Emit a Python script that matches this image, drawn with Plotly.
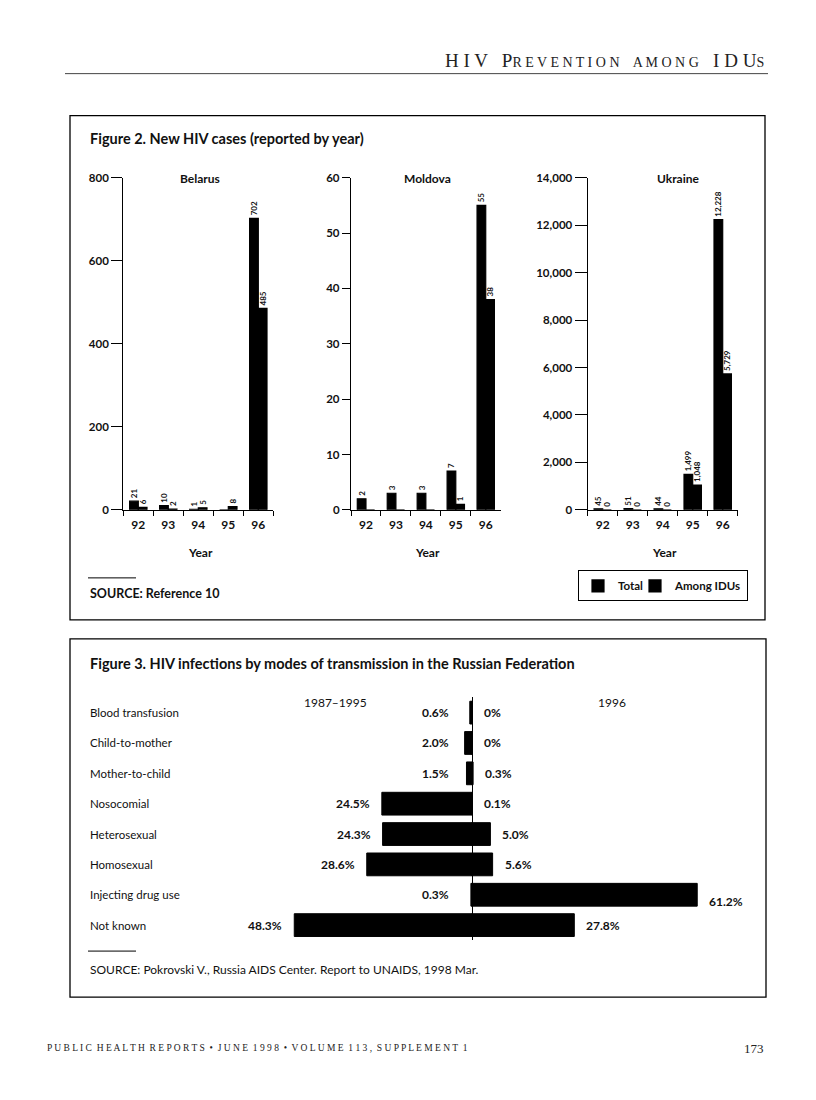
import plotly.graph_objects as go

# The page body has an 8px margin; a 800x1084 figure then fills the 816x1100 window.
# Positions below are in pixels of the reference picture; page_y() maps them
# to page pixels (corrects a small vertical squeeze seen in the screenshots).
PAD = 8
W, H = 816 - 2 * PAD, 1100 - 2 * PAD
FONT = "Lato"
SERIF = "Liberation Serif"
INK = "#111111"

# ---- Figure 2: new HIV cases by year ----
YEARS = ["92", "93", "94", "95", "96"]
BELARUS_TOTAL = [21, 10, 1, 0, 702]
BELARUS_IDU = [6, 2, 5, 8, 485]
MOLDOVA_TOTAL = [2, 3, 3, 7, 55]
MOLDOVA_IDU = [0, 0, 0, 1, 38]
UKRAINE_TOTAL = [45, 51, 44, 1499, 12228]
UKRAINE_IDU = [0, 0, 0, 1048, 5729]

# ---- Figure 3: modes of transmission, Russian Federation ----
MODES = ["Blood transfusion", "Child-to-mother", "Mother-to-child", "Nosocomial",
         "Heterosexual", "Homosexual", "Injecting drug use", "Not known"]
PCT_1987_1995 = [0.6, 2.0, 1.5, 24.5, 24.3, 28.6, 0.3, 48.3]
PCT_1996 = [0, 0, 0.3, 0.1, 5.0, 5.6, 61.2, 27.8]


def page_y(y):
    return (y - 6.5) / 0.9875


def fx(x):
    return (x - PAD) / W


def fy(y):
    return 1 - (page_y(y) - PAD) / H


def fmt_count(v, show_zero):
    if v == 0 and not show_zero:
        return ""
    return f"{v:,}"


def fmt_pct(v):
    return "0%" if v == 0 else f"{v:.1f}%"


def note(text, x, y, xanchor="center", **font):
    f = dict(family=FONT, size=12, color=INK)
    f.update(font)
    return dict(text=text, x=fx(x), y=fy(y), xref="paper", yref="paper",
                xanchor=xanchor, yanchor="middle", showarrow=False, font=f)


fig = go.Figure()
layout = dict(
    width=W, height=H,
    margin=dict(l=0, r=0, t=0, b=0),
    paper_bgcolor="white", plot_bgcolor="rgba(0,0,0,0)",
    font=dict(family=FONT, size=12, color=INK),
    barmode="group", bargap=0.42, bargroupgap=0,
    showlegend=True,
    legend=dict(
        orientation="h", x=fx(578), y=fy(569.5), xanchor="left", yanchor="top",
        bordercolor="black", borderwidth=1, bgcolor="white",
        font=dict(family=FONT, size=11.5, color=INK, weight="bold"),
        itemwidth=30, tracegroupgap=0,
    ),
)

# (name, total, idu, ymax, dtick, x-domain px, title x px, tick length, show zero labels)
panels = [
    ("Belarus", BELARUS_TOTAL, BELARUS_IDU, 800, 200, (123.3, 273.3), 200, 11, False),
    ("Moldova", MOLDOVA_TOTAL, MOLDOVA_IDU, 60, 10, (351, 500.7), 427, 8, False),
    ("Ukraine", UKRAINE_TOTAL, UKRAINE_IDU, 14000, 2000, (587.7, 737.7), 678, 12, True),
]

annotations = []
for i, (name, tot, idu, ymax, dt, (x0, x1), tx, tl, zero) in enumerate(panels, start=1):
    sfx = "" if i == 1 else str(i)
    for label, vals, lw in (("Total", tot, 12), ("Among IDUs", idu, None)):
        fig.add_trace(go.Bar(
            x=YEARS, y=vals, name=label,
            xaxis="x" + sfx, yaxis="y" + sfx,
            marker=dict(color="black", line=dict(color="black", width=1.2)),
            text=[fmt_count(v, zero) for v in vals],
            textposition="outside", textangle=-90,
            textfont=dict(family=FONT, size=8, color=INK, weight="bold"),
            cliponaxis=False, constraintext="none",
            legendgroup=label, showlegend=(i == 1), legendwidth=lw,
            hovertemplate=f"<b>{name} %{{x}}</b><br>{label}: %{{y:,}}<extra></extra>",
        ))
    layout["xaxis" + sfx] = dict(
        domain=[fx(x0), fx(x1)], anchor="y" + sfx, type="category",
        range=[-0.5, 4.5], tickson="boundaries",
        showline=True, linecolor="black", linewidth=1.3,
        ticks="outside", ticklen=5, tickwidth=1.3, tickcolor="black",
        showgrid=False, zeroline=False, ticklabelstandoff=4,
        tickfont=dict(family=FONT, size=12, color=INK, weight="bold"),
    )
    layout["yaxis" + sfx] = dict(
        domain=[fy(509), fy(177)], anchor="x" + sfx,
        range=[0, ymax], dtick=dt, tickformat=",",
        showline=True, linecolor="black", linewidth=1.3,
        ticks="outside", ticklen=tl, tickwidth=1.3, tickcolor="black",
        showgrid=False, zeroline=False,
        tickfont=dict(family=FONT, size=11.5, color=INK, weight="bold"),
    )
    annotations.append(note(name, tx, 177.5, weight="bold"))
    annotations.append(note("Year", (x0 + x1) / 2 + 2, 552, weight="bold"))

# Figure 3: diverging horizontal bars (left = 1987-1995, right = 1996)
for vals, sign in ((PCT_1987_1995, -1), (PCT_1996, 1)):
    fig.add_trace(go.Bar(
        y=MODES, x=[sign * v for v in vals], orientation="h",
        xaxis="x4", yaxis="y4", width=0.75, offset=-0.375, offsetgroup="f3",
        marker=dict(color="black", line=dict(color="black", width=1)),
        showlegend=False, hovertemplate="<b>%{y}</b><br>%{x}%<extra></extra>",
    ))
layout["xaxis4"] = dict(
    domain=[fx(251.2), fx(766.4)], anchor="y4", range=[-60, 80],
    showticklabels=False, ticks="", showgrid=False, showline=False,
    zeroline=True, zerolinecolor="black", zerolinewidth=1.3,
)
layout["yaxis4"] = dict(
    domain=[fy(939.2), fy(696.5)], anchor="x4", type="category",
    range=[7.5, -0.5], showticklabels=False, ticks="", showgrid=False,
    zeroline=False, showline=False,
)

pct_font = dict(family=FONT, size=12, color=INK, weight="bold")
for mode, left, right in zip(MODES, PCT_1987_1995, PCT_1996):
    annotations.append(dict(
        text=mode, x=fx(88), y=mode, xref="paper", yref="y4",
        xanchor="left", yanchor="middle", showarrow=False,
        font=dict(family=FONT, size=11.5, color=INK),
    ))
    annotations.append(dict(
        text=fmt_pct(left), x=-max(left, 3), y=mode, xref="x4", yref="y4",
        xanchor="right", yanchor="middle", xshift=-10, showarrow=False, font=pct_font,
    ))
    annotations.append(dict(
        text=fmt_pct(right), x=right, y=mode, xref="x4", yref="y4",
        xanchor="left", yanchor="middle", xshift=10, yshift=-7 if right > 50 else 0,
        showarrow=False, font=pct_font,
    ))

# page text
sc = "font-size:14px"
annotations += [
    note("H I V   P<span style='%s'>R E V E N T I O N    A M O N G</span>   I D U<span style='%s'>S</span>" % (sc, sc),
         766, 60, xanchor="right", family=SERIF, size=19, color="#222"),
    note("Figure 2. New HIV cases (reported by year)", 88, 138, xanchor="left", size=14.5, weight="bold"),
    note("SOURCE: Reference 10", 88, 593, xanchor="left", size=12.5, weight="bold"),
    note("Figure 3. HIV infections by modes of transmission in the Russian Federation",
         88, 662.5, xanchor="left", size=14.5, weight="bold"),
    note("1987–1995", 335, 701.5),
    note("1996", 611.5, 701.5),
    note("SOURCE: Pokrovski V., Russia AIDS Center. Report to UNAIDS, 1998 Mar.", 88, 968, xanchor="left"),
    note("P U B L I C  H E A L T H  R E P O R T S  •  J U N E  1 9 9 8  •  V O L U M E  1 1 3 ,  S U P P L E M E N T  1",
         45, 1047, xanchor="left", family=SERIF, size=9.5, color="#222"),
    note("173", 766, 1047, xanchor="right", family=SERIF, size=13, color="#222"),
]


def hline(x0, x1, y, color="black", width=1.0):
    return dict(type="line", xref="paper", yref="paper", x0=fx(x0), x1=fx(x1),
                y0=fy(y), y1=fy(y), line=dict(color=color, width=width))


def box(x0, x1, y0, y1):
    return dict(type="rect", xref="paper", yref="paper", x0=fx(x0), x1=fx(x1),
                y0=fy(y0), y1=fy(y1), line=dict(color="black", width=1.3))


layout["shapes"] = [
    hline(65, 768, 73, color="#444"),
    box(70, 765, 115, 619),
    box(70, 766, 638, 996),
    hline(88, 136, 577),
    hline(88, 136, 950),
]
layout["annotations"] = annotations

fig.update_layout(**layout)
fig.write_html("out.html")
